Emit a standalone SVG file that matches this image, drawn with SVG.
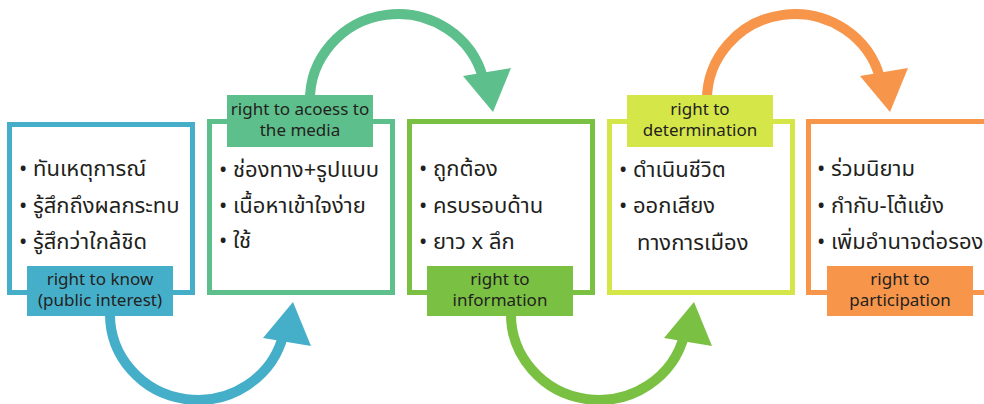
<svg xmlns="http://www.w3.org/2000/svg" width="984" height="404" viewBox="0 0 984 404">
<style>
.box{fill:#fff;stroke-width:5}
.th{font-family:"Noto Sans Thai","Noto Sans","Liberation Sans",sans-serif;font-size:22px;fill:#231f20}
.lb{font-family:"Noto Sans","Liberation Sans",sans-serif;font-size:17px;fill:#231f20;text-anchor:middle}
.arc{fill:none;stroke-width:10}
</style>
<rect width="984" height="404" fill="#fff"/>
<g id="connectors">
<path class="arc" stroke="#45AFCA" d="M110,312 A88,86 0 0 0 283.3,335"/>
<polygon fill="#45AFCA" points="263,338 311,346 293,302"/>
<path class="arc" stroke="#5DBF8B" d="M310,102 A88,86 0 0 1 483.3,79"/>
<polygon fill="#5DBF8B" points="463,76 511,68 493,112"/>
<path class="arc" stroke="#7AC143" d="M511,312 A88,86 0 0 0 684.3,335"/>
<polygon fill="#7AC143" points="664,338 712,346 694,302"/>
<path class="arc" stroke="#F7964A" d="M707,102 A88,86 0 0 1 880.3,79"/>
<polygon fill="#F7964A" points="860,76 908,68 890,112"/>
</g>
<g id="node1">
<rect class="box" stroke="#45AFCA" x="9.5" y="124.5" width="183" height="168"/>
<text class="th" x="19" y="176">• ทันเหตุการณ์</text>
<text class="th" x="19" y="213">• รู้สึกถึงผลกระทบ</text>
<text class="th" x="19" y="249">• รู้สึกว่าใกล้ชิด</text>
<rect fill="#45AFCA" x="27" y="266" width="146" height="50"/>
<text class="lb" x="100" y="285">right to know</text>
<text class="lb" x="100" y="306">(public interest)</text>
</g>
<g id="node2">
<rect class="box" stroke="#5DBF8B" x="209.5" y="121.5" width="183" height="171"/>
<text class="th" x="219" y="177">• ช่องทาง+รูปแบบ</text>
<text class="th" x="219" y="213">• เนื้อหาเข้าใจง่าย</text>
<text class="th" x="219" y="248">• ใช้</text>
<rect fill="#5DBF8B" x="227" y="95" width="146" height="52"/>
<text class="lb" x="300" y="115">right to acoess to</text>
<text class="lb" x="300" y="136">the media</text>
</g>
<g id="node3">
<rect class="box" stroke="#7AC143" x="409.5" y="121.5" width="183" height="171"/>
<text class="th" x="419" y="176">• ถูกต้อง</text>
<text class="th" x="419" y="213">• ครบรอบด้าน</text>
<text class="th" x="419" y="249">• ยาว x ลึก</text>
<rect fill="#7AC143" x="427" y="266" width="146" height="50"/>
<text class="lb" x="500" y="285">right to</text>
<text class="lb" x="500" y="306">information</text>
</g>
<g id="node4">
<rect class="box" stroke="#D5E649" x="609.5" y="121.5" width="183" height="171"/>
<text class="th" x="619" y="177">• ดำเนินชีวิต</text>
<text class="th" x="619" y="213">• ออกเสียง</text>
<text class="th" x="637" y="250">ทางการเมือง</text>
<rect fill="#D5E649" x="627" y="95" width="146" height="52"/>
<text class="lb" x="700" y="115">right to</text>
<text class="lb" x="700" y="136">determination</text>
</g>
<g id="node5">
<rect class="box" stroke="#F7964A" x="808.5" y="121.5" width="183" height="171"/>
<text class="th" x="817" y="176">• ร่วมนิยาม</text>
<text class="th" x="817" y="213">• กำกับ-โต้แย้ง</text>
<text class="th" x="817" y="249">• เพิ่มอำนาจต่อรอง</text>
<rect fill="#F7964A" x="827" y="266" width="146" height="50"/>
<text class="lb" x="900" y="285">right to</text>
<text class="lb" x="900" y="306">participation</text>
</g>
</svg>
